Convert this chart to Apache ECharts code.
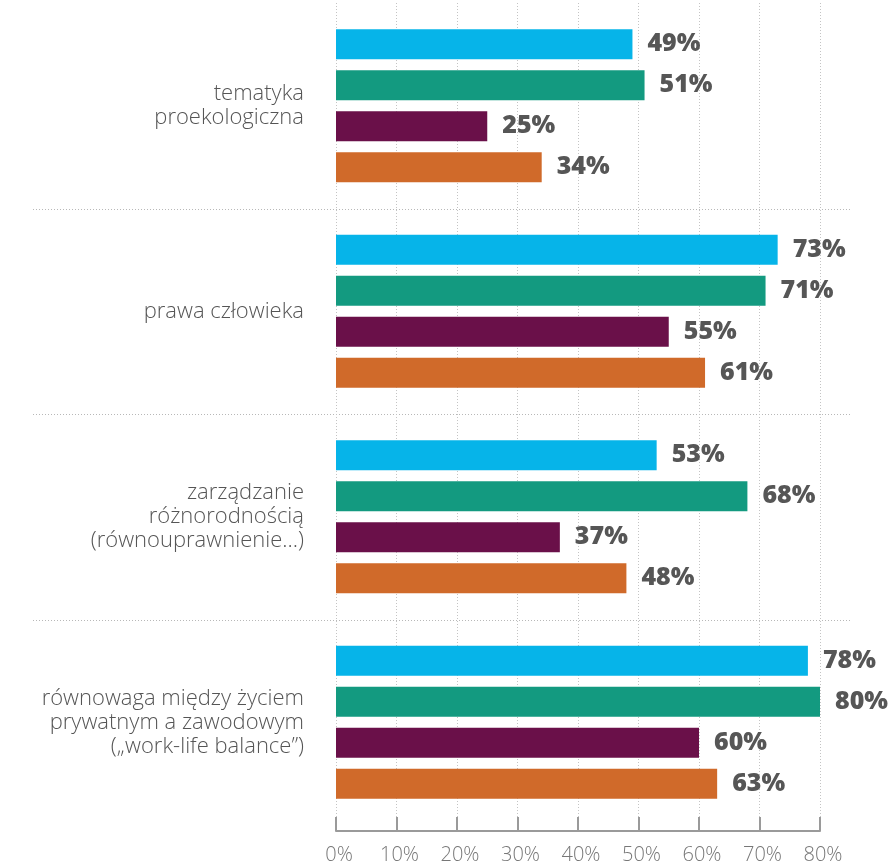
<!DOCTYPE html>
<html><head><meta charset="utf-8">
<script src="https://cdn.jsdelivr.net/npm/echarts@6/dist/echarts.min.js"></script>
<style>html,body{margin:0;padding:0;background:#fff}#c{width:895px;height:865px}</style>
</head><body><div id="c"></div>
<script>
const categories = ["tematyka\nproekologiczna", "prawa człowieka", "zarządzanie\nróżnorodnością\n(równouprawnienie…)", "równowaga między życiem\nprywatnym a zawodowym\n(„work-life balance”)"];
const seriesA = [49, 73, 53, 78];
const seriesB = [51, 71, 68, 80];
const seriesC = [25, 55, 37, 60];
const seriesD = [34, 61, 48, 63];
const tickLabels = ["0%", "10%", "20%", "30%", "40%", "50%", "60%", "70%", "80%"];
const colors = ["#06B4E9", "#139A80", "#6A1049", "#D06A2A"];
const allSeries = [seriesA, seriesB, seriesC, seriesD];

const FONT = "'Open Sans', sans-serif";
const chart = echarts.init(document.getElementById('c'));
chart.setOption({
  animation: false,
  grid: [
    {left: 336, right: 75, top: 3, height: 823, containLabel: false},
    {left: 33, right: 45, top: 3, height: 823, containLabel: false}
  ],
  xAxis: [
    {type: 'value', gridIndex: 0, min: 0, max: 80, interval: 10, offset: 6,
     axisLine: {show: true, lineStyle: {color: '#9a9a9a', width: 2}},
     axisTick: {show: true, inside: true, length: 14, lineStyle: {color: '#9a9a9a', width: 2}},
     axisLabel: {formatter: (v) => tickLabels[Math.round(v / 10)], color: '#777777', fontSize: 20, fontWeight: 300, fontFamily: FONT, margin: 14, padding: [0, 0, 0, 6]},
     splitLine: {show: true, lineStyle: {color: '#c4c4c4', type: [1, 2], width: 1}}},
    {type: 'value', gridIndex: 1, show: false, min: 0, max: 1}
  ],
  yAxis: [
    {type: 'category', gridIndex: 0, inverse: true, data: categories,
     axisLine: {show: false}, axisTick: {show: false},
     axisLabel: {color: '#555555', fontSize: 22, fontWeight: 300, fontFamily: FONT, lineHeight: 24, margin: 32, align: 'right'},
     splitLine: {show: false}},
    {type: 'category', gridIndex: 1, inverse: true, data: categories,
     axisLine: {show: false}, axisTick: {show: false}, axisLabel: {show: false},
     splitLine: {show: true, showMinLine: false, showMaxLine: false, lineStyle: {color: '#b8b8b8', type: [1, 2], width: 1}}}
  ],
  series: allSeries.map((d, i) => ({
    type: 'bar', name: 'S' + (i + 1), xAxisIndex: 0, yAxisIndex: 0,
    data: d, barWidth: 30, barGap: '36.7%',
    itemStyle: {color: colors[i]},
    label: {show: true, position: 'right', distance: 15, formatter: '{c}%', color: '#565656', fontSize: 25, fontWeight: 800, fontFamily: FONT}
  }))
});
</script></body></html>
